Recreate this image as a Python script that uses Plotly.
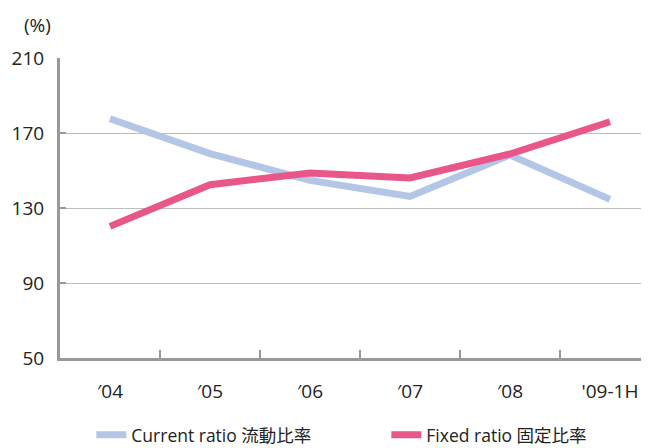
import plotly.graph_objects as go

categories = ["′04", "′05", "′06", "′07", "′08", "'09-1H"]
current_ratio = [177.6, 159.0, 144.7, 136.2, 158.3, 134.6]
fixed_ratio = [120.2, 142.4, 148.7, 146.0, 158.8, 176.0]
y_ticks = [50, 90, 130, 170, 210]

FONT = "'Open Sans', 'Noto Sans CJK JP', sans-serif"

fig = go.Figure()
fig.add_trace(go.Scatter(
    x=categories, y=current_ratio, mode="lines",
    name="Current ratio 流動比率",
    line=dict(color="#b3c6e6", width=7),
))
fig.add_trace(go.Scatter(
    x=categories, y=fixed_ratio, mode="lines",
    name="Fixed ratio 固定比率",
    line=dict(color="#e9568a", width=7),
))

fig.update_layout(
    width=641, height=440,
    margin=dict(l=52, r=0, t=50, b=90, autoexpand=False),
    paper_bgcolor="white", plot_bgcolor="white",
    font=dict(family=FONT, color="#222", size=19),
    showlegend=True,
    legend=dict(
        orientation="h", xref="container", x=0.13, xanchor="left",
        yref="container", y=0.03, yanchor="middle",
        font=dict(size=17.5, color="#222"),
        entrywidth=250, itemwidth=30,
    ),
    xaxis=dict(
        type="category", range=[-0.5, 5.39],
        showline=True, linecolor="#999", linewidth=3,
        ticks="inside", tickson="boundaries", ticklen=8, tickwidth=2, tickcolor="#999",
        ticklabelstandoff=14,
        showgrid=False, zeroline=False,
        tickfont=dict(size=19),
    ),
    yaxis=dict(
        range=[50, 210], tickvals=y_ticks,
        showline=True, linecolor="#999", linewidth=3,
        ticks="inside", ticklen=6, tickwidth=2, tickcolor="#999",
        showgrid=True, gridcolor="#bdbdbd", gridwidth=1.3,
        zeroline=False, ticklabelstandoff=9,
        tickfont=dict(size=19),
    ),
    annotations=[dict(
        text="(%)", xref="paper", yref="paper", x=-0.039, y=1.11,
        xanchor="center", yanchor="middle", showarrow=False,
        font=dict(size=19, color="#222"),
    )],
)

fig.write_html("out.html")
